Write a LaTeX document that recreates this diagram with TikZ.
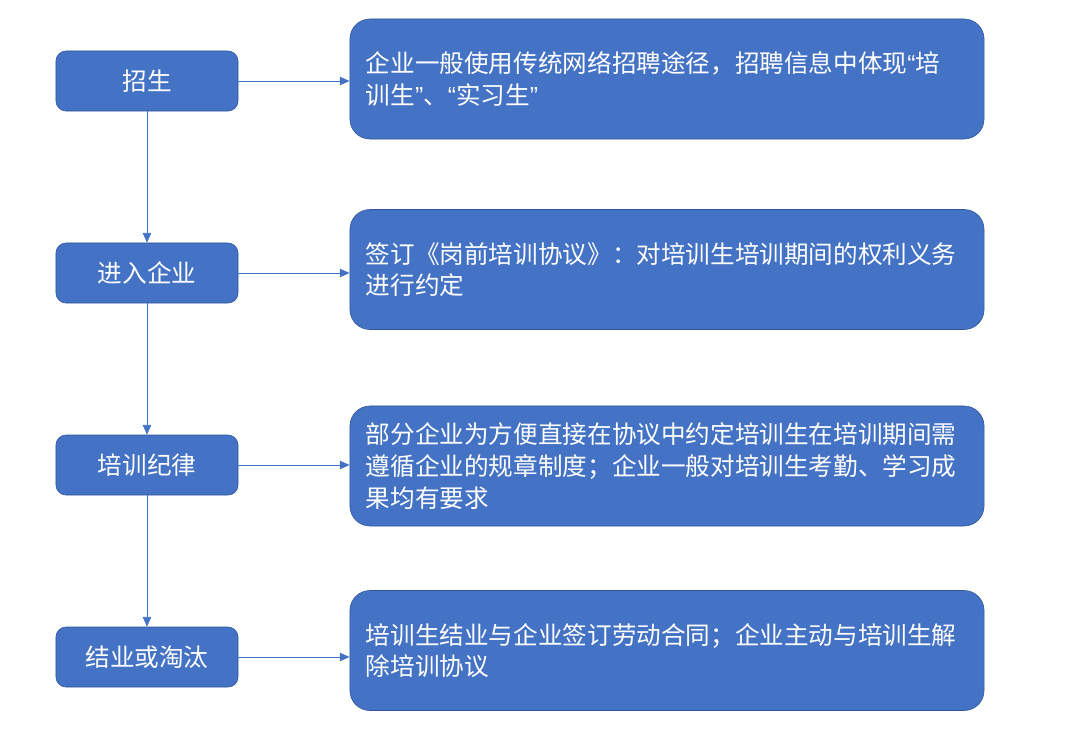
\documentclass[tikz,border=0pt]{standalone}
\usepackage{fontspec}
\newfontfamily\cjk{Noto Sans CJK SC}
\newfontfamily\latin{Liberation Sans}
\usetikzlibrary{arrows.meta}
\definecolor{boxblue}{HTML}{4472C4}
\definecolor{edgeblue}{HTML}{2F5597}
\newcommand{\openq}{{\latin “}}
\newcommand{\closeq}{{\latin ”}}

\begin{document}
\begin{tikzpicture}[x=0.025cm,y=-0.025cm,
    stage/.style={draw=edgeblue, fill=boxblue, text=white, rounded corners=0.25cm,
        minimum width=4.55cm, minimum height=1.5cm, inner sep=0pt,
        font=\cjk\fontsize{17.5}{22}\selectfont},
    note/.style={draw=edgeblue, fill=boxblue, text=white, rounded corners=0.5cm,
        text width=15.05cm, inner xsep=0.4cm, inner ysep=0pt, minimum height=3cm,
        align=left, font=\cjk\fontsize{17.5}{22.5}\selectfont},
    link/.style={draw=boxblue, line width=0.6pt, -{Triangle[length=7pt,width=6pt]}}]

            \useasboundingbox (0,0) rectangle (1080,732);

            \node[stage] (zs) at (147,81) {招生};
            \node[stage] (jr) at (147,273) {进入企业};
            \node[stage] (px) at (147,465) {培训纪律};
            \node[stage] (jy) at (147,657) {结业或淘汰};

            \node[note] (zsnote) at (667,79) {企业一般使用传统网络招聘途径，招聘信息中体现\openq 培\\训生\closeq 、\openq 实习生\closeq};
            \node[note] (jrnote) at (667,269.5) {签订《岗前培训协议》：对培训生培训期间的权利义务\\进行约定};
            \node[note] (pxnote) at (667,466) {部分企业为方便直接在协议中约定培训生在培训期间需\\遵循企业的规章制度；企业一般对培训生考勤、学习成\\果均有要求};
            \node[note] (jynote) at (667,650.5) {培训生结业与企业签订劳动合同；企业主动与培训生解\\除培训协议};

            \draw[link] (zs) -- (jr);
            \draw[link] (jr) -- (px);
            \draw[link] (px) -- (jy);

            \draw[link] (zs.east) -- (zs.east -| zsnote.west);
            \draw[link] (jr.east) -- (jr.east -| jrnote.west);
            \draw[link] (px.east) -- (px.east -| pxnote.west);
            \draw[link] (jy.east) -- (jy.east -| jynote.west);
        \end{tikzpicture}
\end{document}
